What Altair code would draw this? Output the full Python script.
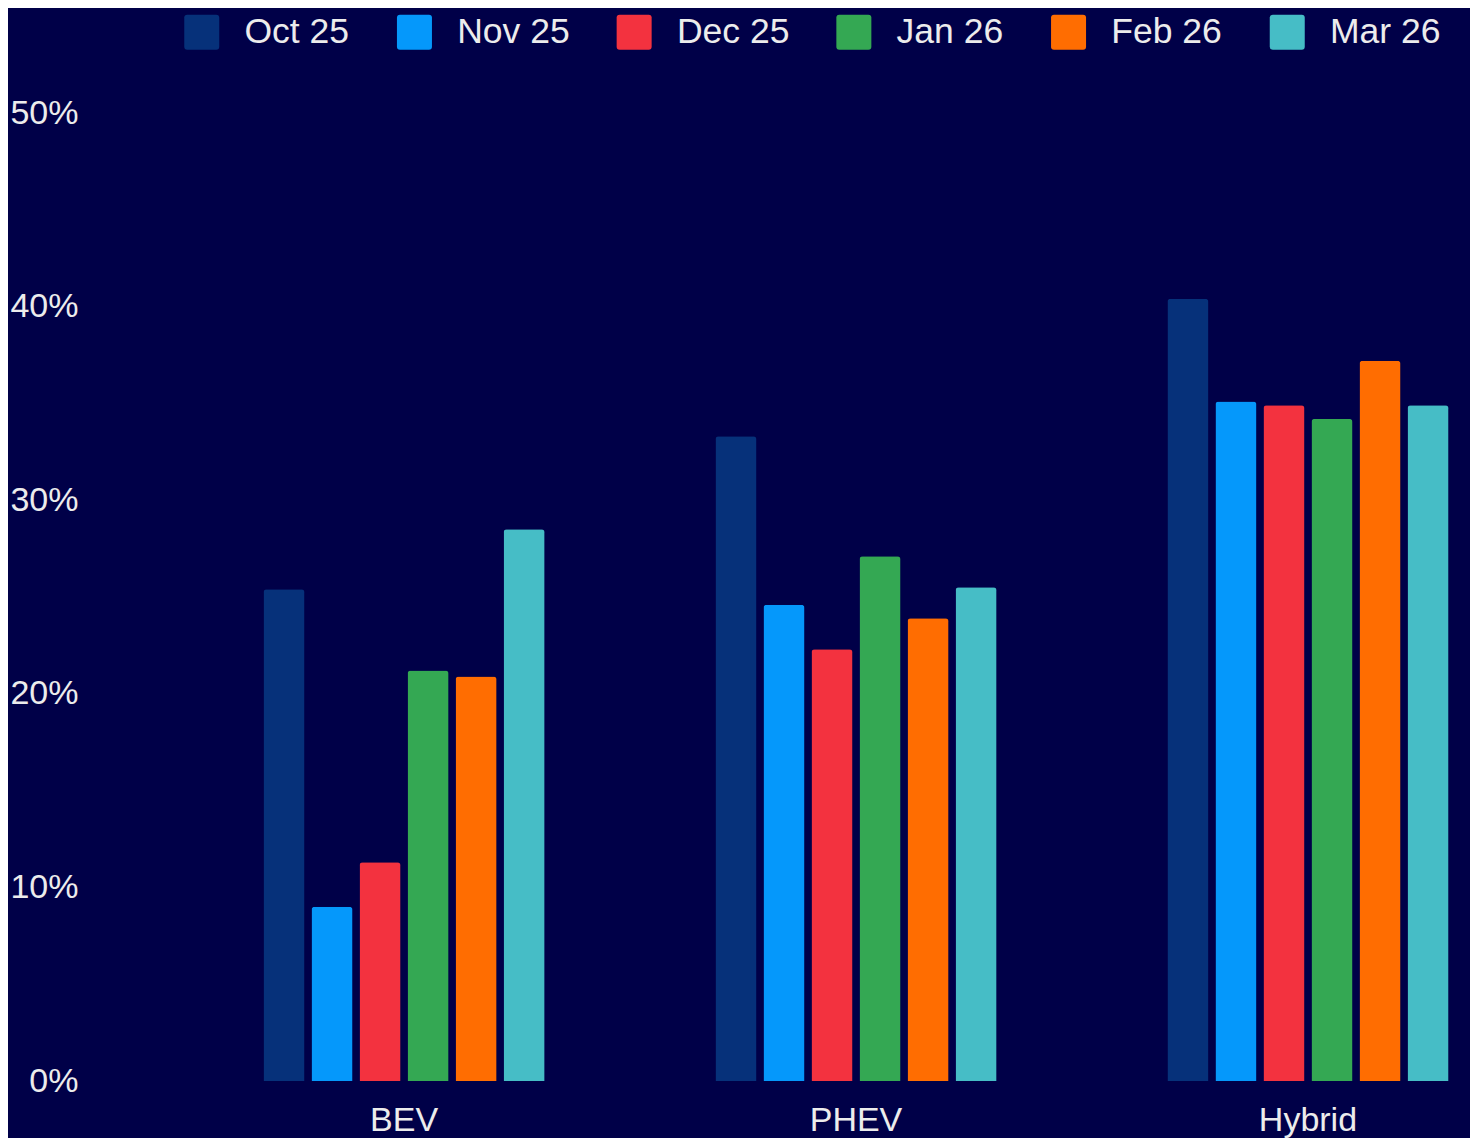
import altair as alt
import pandas as pd

categories = ["BEV", "PHEV", "Hybrid"]
months = ["Oct 25", "Nov 25", "Dec 25", "Jan 26", "Feb 26", "Mar 26"]
oct25 = [25.4, 33.3, 40.4]
nov25 = [9.0, 24.6, 35.1]
dec25 = [11.3, 22.3, 34.9]
jan26 = [21.2, 27.1, 34.2]
feb26 = [20.9, 23.9, 37.2]
mar26 = [28.5, 25.5, 34.9]
colors = ["#06317a", "#0598fb", "#f3323f", "#34a853", "#ff6d01", "#46bdc6"]
y_ticks = [0, 10, 20, 30, 40, 50]

series = [oct25, nov25, dec25, jan26, feb26, mar26]
rows = []
for m, vals in zip(months, series):
    for c, v in zip(categories, vals):
        rows.append({"category": c, "month": m, "value": v})
df = pd.DataFrame(rows)

BG = "#000048"
TXT = "#ececec"
FONT = "Liberation Sans"
rsq = "M-0.83,-1 H0.83 Q1,-1 1,-0.83 V0.83 Q1,1 0.83,1 H-0.83 Q-1,1 -1,0.83 V-0.83 Q-1,-1 -0.83,-1 Z"

chart = alt.Chart(df).mark_bar(cornerRadiusTopLeft=3, cornerRadiusTopRight=3).encode(
    x=alt.X("category:N", sort=categories,
            scale=alt.Scale(paddingInner=0.378, paddingOuter=0.0254),
            axis=alt.Axis(title=None, labelAngle=0, domain=False, ticks=False, tickSize=0,
                          labelPadding=22, labelFontSize=34, labelColor=TXT, labelFont=FONT,
                          grid=False)),
    xOffset=alt.XOffset("month:N", sort=months,
                        scale=alt.Scale(paddingInner=0.146, paddingOuter=0)),
    y=alt.Y("value:Q", scale=alt.Scale(domain=[0, 50], nice=False),
            axis=alt.Axis(title=None, values=y_ticks, labelExpr="datum.value + '%'",
                          domain=False, ticks=False, tickSize=0, grid=False,
                          labelPadding=174, labelFontSize=34, labelColor=TXT, labelFont=FONT)),
    color=alt.Color("month:N", sort=months,
                    scale=alt.Scale(domain=months, range=colors),
                    legend=alt.Legend(orient="none", legendX=-68, legendY=-99,
                                      direction="horizontal", title=None,
                                      symbolType=rsq, symbolSize=1225, symbolStrokeWidth=0,
                                      symbolOpacity=1,
                                      labelFontSize=35.5, labelColor=TXT, labelFont=FONT,
                                      labelOffset=25, columnPadding=46.7, padding=0)),
).properties(
    width=1208,
    height=968,
    autosize=alt.AutoSizeParams(type="none"),
    padding={"left": 244, "top": 105, "right": 10, "bottom": 57},
).configure(background=BG).configure_view(stroke=None)

chart.save("out.html", embed_options={"renderer": "svg", "actions": False})
